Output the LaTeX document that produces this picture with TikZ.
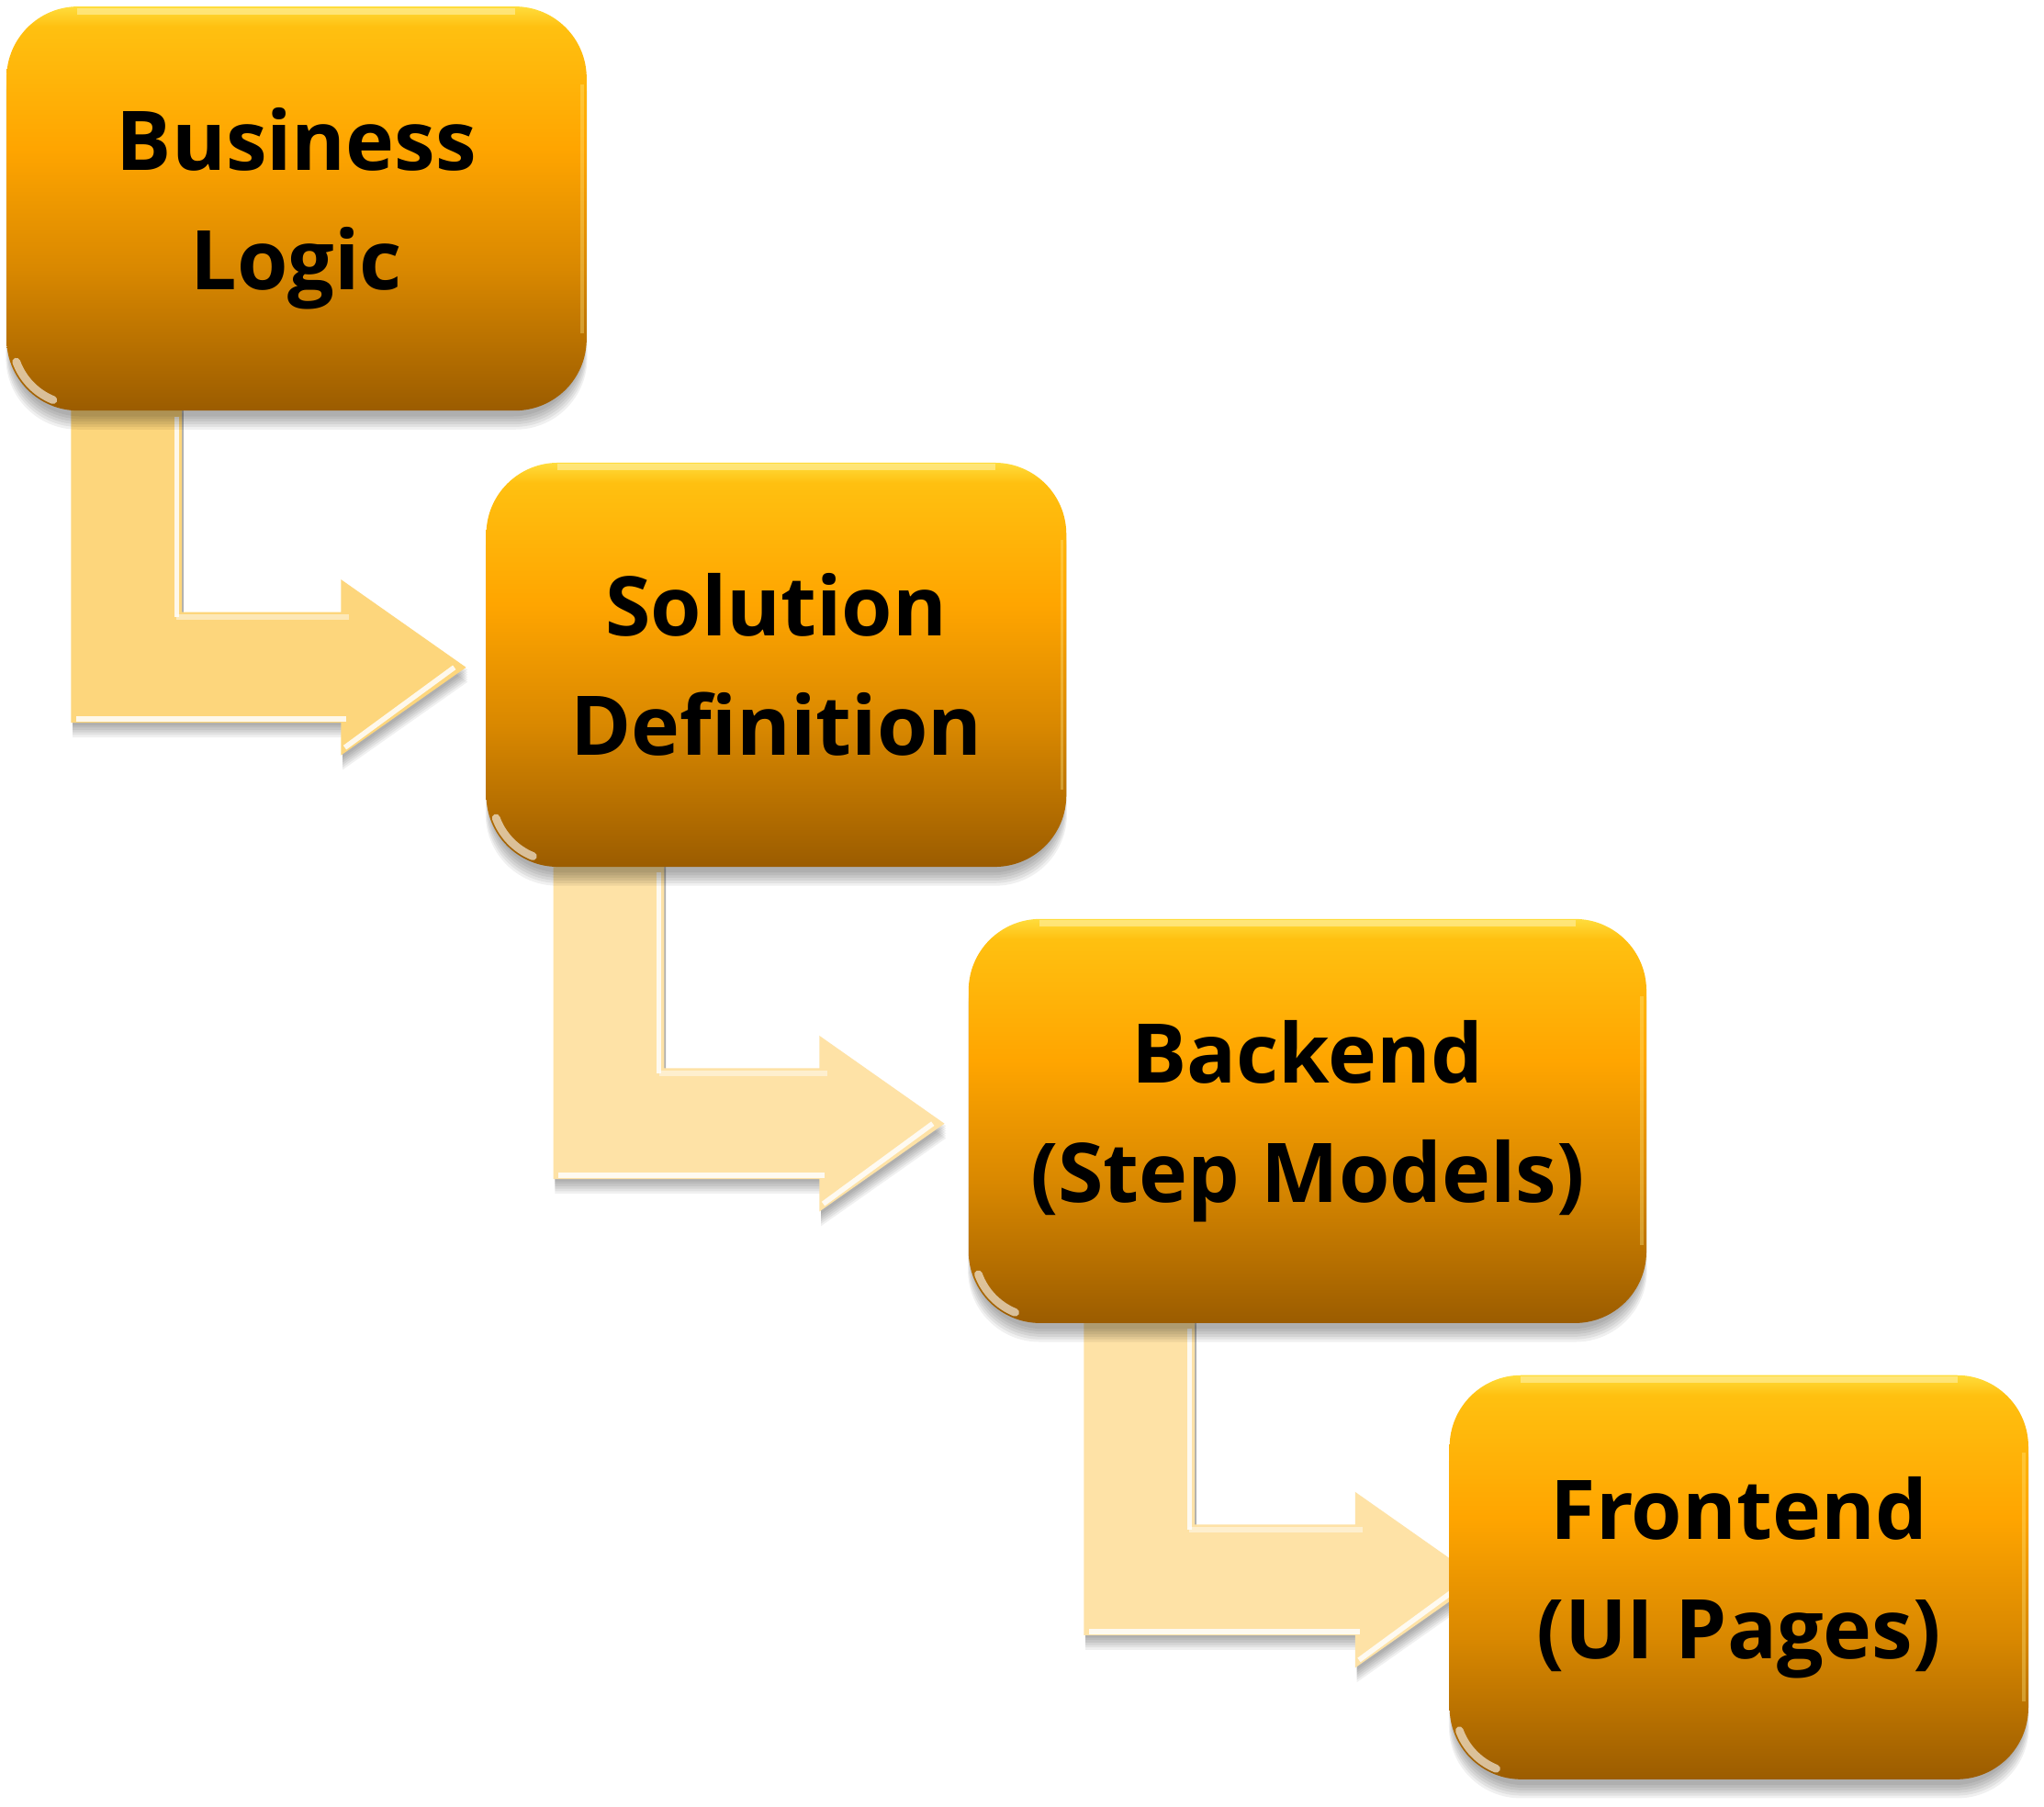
\documentclass[tikz,border=0pt]{standalone}
\usepackage{fontspec}
\newfontfamily\boxfont{Open Sans}
\usetikzlibrary{calc}
\pgfdeclarelayer{back}
\pgfdeclarelayer{bg}
\pgfdeclarelayer{shade}
\pgfsetlayers{back,bg,shade,main}

\definecolor{bxhi}{RGB}{255,220,60}
\definecolor{bxtop}{RGB}{255,192,16}
\definecolor{bxmid}{RGB}{255,165,0}
\definecolor{bxlow}{RGB}{217,136,0}
\definecolor{bxbot}{RGB}{155,92,0}
\definecolor{arA}{RGB}{253,214,124}
\definecolor{arB}{RGB}{254,226,166}

\pgfdeclareverticalshading{boxshade}{100bp}{color(0bp)=(bxbot); color(25bp)=(bxbot); color(42.5bp)=(bxlow); color(57.5bp)=(bxmid); color(72.5bp)=(bxtop); color(75bp)=(bxhi); color(100bp)=(bxhi)}

\tikzset{
  stagebox/.style={rounded corners=0.78cm, shading=boxshade, inner sep=0pt,
    minimum height=310*0.014196cm,
    font=\boxfont\bfseries\fontsize{25.5}{37}\selectfont, align=center, text=black},
  bevel/.style={white, opacity=.85, line width=1.6pt},
  softshadow/.style={black, opacity=.06},
}

\newcommand\arrowpath[1]{(#1s) -- (#1r) -- (#1r |- #1u) -- (#1b |- #1u) -- (#1b |- #1U)
     -- (#1t) -- (#1b |- #1D) -- (#1b |- #1d) -- (#1s |- #1d) -- cycle}

\newcommand\bentarrow[6]{%
  \coordinate (#1s) at ($(#2.south west)+(#4,-10)$);
  \coordinate (#1r) at ($(#1s)+(85,0)$);
  \coordinate (#1t) at ($(#3.west)+(#5,2)$);
  \coordinate (#1b) at ($(#1t)+(-96,0)$);
  \coordinate (#1u) at ($(#1t)+(0,-42.5)$);
  \coordinate (#1d) at ($(#1t)+(0,42.5)$);
  \coordinate (#1U) at ($(#1t)+(0,-67.5)$);
  \coordinate (#1D) at ($(#1t)+(0,67.5)$);
  \foreach \k in {1,...,6}{%
    \fill[softshadow, transform canvas={xshift=0.5pt, yshift=-\k*0.75pt}] \arrowpath{#1};}
  \fill[#6] \arrowpath{#1};
  \draw[bevel] ($(#1s |- #1d)+(4,-3)$) -- ($(#1b |- #1d)+(4,-3)$);
  \draw[bevel] ($(#1b |- #1D)+(3,-6)$) -- ($(#1t)+(-9,0)$);
  \draw[bevel] ($(#1r)+(-4,14)$) -- ($(#1r |- #1u)+(-4,4)$);
  \draw[bevel, opacity=.45] ($(#1r |- #1u)+(-4,4)$) -- ($(#1b |- #1u)+(6,4)$);
}

\newcommand\boxshadow[1]{%
  \foreach \k in {0,...,5}{%
    \fill[softshadow, rounded corners=0.78cm] ($(#1.north west)+(3-0.6*\k,12)$) rectangle ($(#1.south east)+(-3+0.6*\k,4+2*\k)$);}
}

\newcommand\gloss[1]{%
  \draw[bxhi!55!white, line width=2pt, opacity=.7] ($(#1.north west)+(55,4)$) -- ($(#1.north east)+(-55,4)$);
  \draw[bxhi!60!white, line width=1pt, opacity=.35] ($(#1.north east)+(-4,60)$) -- ($(#1.south east)+(-4,-60)$);
  \draw[white, line width=2.5pt, opacity=.6, line cap=round] ($(#1.south west)+(55,-55)$) ++(160:50) arc[start angle=160, end angle=112, radius=50];
}

\begin{document}
\begin{tikzpicture}[x=0.014196cm, y=-0.014196cm]
\begin{pgfonlayer}{back}
\fill[white] (0,0) rectangle (1568,1386);
\end{pgfonlayer}
\useasboundingbox (0,0) rectangle (1568,1386);

\node[stagebox, minimum width=445*0.014196cm] (b1) at (227.5,160) {Business\\Logic};
\node[stagebox, minimum width=445*0.014196cm] (b2) at (595.5,510) {Solution\\Definition};
\node[stagebox, minimum width=520*0.014196cm] (b3) at (1003,860) {Backend\\(Step Models)};
\node[stagebox, minimum width=444*0.014196cm] (b4) at (1334,1210) {Frontend\\(UI Pages)};

\gloss{b1}
\gloss{b2}
\gloss{b3}
\gloss{b4}

\begin{pgfonlayer}{shade}
  \boxshadow{b1}
  \boxshadow{b2}
  \boxshadow{b3}
  \boxshadow{b4}
\end{pgfonlayer}

\begin{pgfonlayer}{bg}
  \bentarrow{a}{b1}{b2}{50}{-15}{arA}
  \bentarrow{c}{b2}{b3}{52}{-18}{arB}
  \bentarrow{e}{b3}{b4}{89}{24}{arB}
\end{pgfonlayer}
\end{tikzpicture}
\end{document}
